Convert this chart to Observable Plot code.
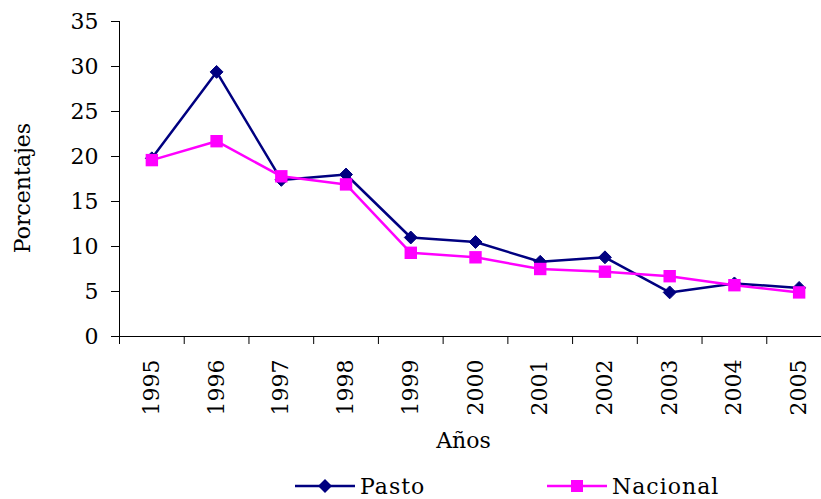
<!DOCTYPE html>
<html>
<head>
<meta charset="utf-8">
<script src="https://cdn.jsdelivr.net/npm/d3@7"></script>
<script src="https://cdn.jsdelivr.net/npm/@observablehq/plot@0.6"></script>
<style>
  body { margin: 0; background: white; font-family: "DejaVu Serif", serif; }
  #wrap { position: relative; width: 821px; height: 499px; }
  #legend { position: absolute; left: 0; top: 466px; width: 821px; height: 33px; font-size: 22px; color: #000; }
  .item { position: absolute; top: 0; display: flex; align-items: center; height: 40px; }
  .item svg { display: block; }
  .item span { letter-spacing: 1px; }
</style>
</head>
<body>
<div id="wrap"><div id="chart"></div><div id="legend"></div></div>
<script>
const years = ["1995","1996","1997","1998","1999","2000","2001","2002","2003","2004","2005"];
const pasto = [19.8, 29.4, 17.4, 18.0, 11.0, 10.5, 8.3, 8.8, 4.9, 5.9, 5.4];
const nacional = [19.6, 21.7, 17.8, 16.9, 9.3, 8.8, 7.5, 7.2, 6.7, 5.7, 4.9];
const yTicks = [0, 5, 10, 15, 20, 25, 30, 35];
const seriesNames = ["Pasto", "Nacional"];
const colors = {Pasto: "#000080", Nacional: "#FF00FF"};

const rows = years.map((year, i) => ({i, pos: i + 0.5, year, pasto: pasto[i], nacional: nacional[i]}));

const chart = Plot.plot({
  width: 821,
  height: 466,
  marginLeft: 119,
  marginTop: 21,
  marginRight: 0,
  marginBottom: 130,
  style: {fontFamily: "DejaVu Serif", fontSize: "22px", color: "#000", background: "white", overflow: "hidden"},
  x: {type: "linear", domain: [0, years.length], range: [119, 831]},
  y: {domain: [0, 35], range: [336, 21]},
  marks: [
    Plot.axisY({ticks: yTicks, tickSize: 8, tickPadding: 13, label: null, stroke: "#000", fontSize: 22}),
    Plot.axisX({ticks: d3.range(0, years.length), tickSize: 8, tickFormat: () => "", label: null, stroke: "#000"}),
    Plot.ruleY([0], {x1: 0, x2: years.length, stroke: "#000"}),
    Plot.ruleX([0], {y1: 0, y2: 35, stroke: "#000"}),
    Plot.text(rows, {x: "pos", y: 0, text: "year", rotate: -90, textAnchor: "end", dy: 23, fontSize: 22, fill: "#000"}),
    Plot.text(["Años"], {frameAnchor: "bottom", dy: 111, dx: -7, fontSize: 22, fill: "#000", letterSpacing: "1px"}),
    Plot.text(["Porcentajes"], {frameAnchor: "left", textAnchor: "middle", rotate: -90, dx: -97, dy: 9, fontSize: 22, fill: "#000", letterSpacing: "1px"}),
    Plot.line(rows, {x: "pos", y: "pasto", stroke: colors.Pasto, strokeWidth: 2.5}),
    Plot.dot(rows, {x: "pos", y: "pasto", symbol: "diamond2", r: 5.8, fill: colors.Pasto, stroke: colors.Pasto, strokeWidth: 1}),
    Plot.line(rows, {x: "pos", y: "nacional", stroke: colors.Nacional, strokeWidth: 2.5}),
    Plot.dot(rows, {x: "pos", y: "nacional", symbol: "square", r: 7, fill: colors.Nacional, stroke: "none"})
  ]
});
document.getElementById("chart").appendChild(chart);

// Legend
const legend = document.getElementById("legend");
const legendPos = {Pasto: 295, Nacional: 547};
seriesNames.forEach(name => {
  const item = document.createElement("div");
  item.className = "item";
  item.style.left = legendPos[name] + "px";
  const marker = name === "Pasto"
    ? `<path d="M30,13 L37,20 L30,27 L23,20 Z" fill="${colors[name]}"/>`
    : `<rect x="24" y="14" width="12" height="12" fill="${colors[name]}"/>`;
  item.innerHTML = `<svg width="60" height="40"><line x1="0" x2="60" y1="20" y2="20" stroke="${colors[name]}" stroke-width="2.5"/>${marker}</svg><span style="margin-left:5px">${name}</span>`;
  legend.appendChild(item);
});
</script>
</body>
</html>
